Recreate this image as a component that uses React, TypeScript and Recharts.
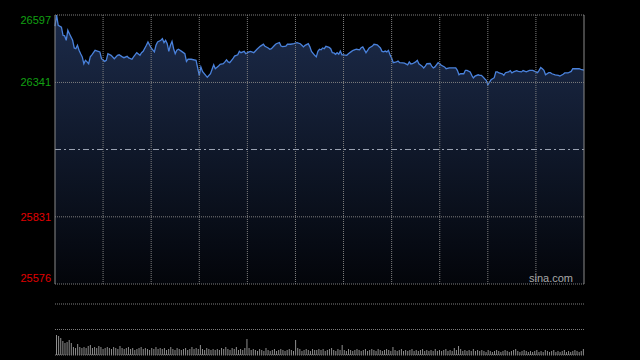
import { AreaChart, Area, XAxis, YAxis, CartesianGrid, ReferenceLine, BarChart, Bar } from 'recharts';

// previous close and axis ticks
const prevClose = 26086.5;
const priceTicks = [25576, 25831, 26341, 26597];
const gridMinutes = [30, 60, 90, 120, 150, 180, 210, 240, 270, 300];
const SESSION = [0, 330];

// minutes since the open (09:30) and index value at that minute
const minutes = [
  0, 1, 2, 4, 5, 6, 7, 8, 9, 11, 12, 13, 14, 15, 16, 17, 18, 19, 20, 21, 22, 23, 25, 26, 28,
  29, 31, 32, 33, 35, 37, 39, 40, 42, 43, 45, 46, 48, 49, 51, 53, 54, 55, 57, 58, 60, 62, 63, 64, 66,
  67, 68, 69, 70, 71, 72, 73, 74, 75, 76, 77, 79, 81, 82, 83, 85, 88, 89, 90, 91, 92, 94, 95, 97, 98,
  99, 100, 102, 103, 105, 106, 107, 108, 109, 111, 112, 114, 115, 116, 118, 119, 121, 122, 124, 126, 128, 130, 131, 133,
  134, 135, 137, 138, 140, 141, 142, 144, 145, 147, 149, 151, 153, 154, 155, 156, 158, 159, 160, 162, 163, 164, 165, 166, 167,
  168, 169, 171, 172, 173, 174, 175, 176, 177, 178, 179, 180, 182, 183, 185, 186, 188, 190, 191, 192, 194, 195, 196, 198, 199,
  201, 203, 204, 205, 206, 207, 208, 209, 210, 211, 213, 214, 215, 217, 218, 220, 221, 222, 223, 225, 226, 227, 229, 230, 231,
  232, 234, 235, 236, 237, 239, 240, 241, 243, 244, 246, 248, 250, 251, 252, 253, 255, 256, 257, 259, 260, 261, 262, 264, 265, 266,
  267, 268, 269, 270, 272, 273, 274, 275, 276, 277, 279, 280, 281, 283, 284, 285, 286, 288, 289, 291, 292, 294, 296, 298,
  299, 300, 301, 302, 303, 304, 305, 306, 308, 309, 310, 312, 314, 315, 317, 318, 320, 322, 323, 325, 327, 328, 330,
];
const prices = [
  26555, 26597, 26558, 26551, 26520, 26518, 26501, 26539, 26526, 26501, 26472, 26469, 26482, 26463, 26450, 26438, 26412, 26425, 26419, 26412, 26438, 26446, 26463, 26461, 26457,
  26431, 26421, 26425, 26450, 26444, 26431, 26444, 26446, 26438, 26435, 26440, 26434, 26429, 26438, 26454, 26444, 26454, 26459, 26482, 26495, 26472, 26457, 26482, 26495, 26501,
  26507, 26492, 26501, 26488, 26459, 26482, 26497, 26469, 26450, 26463, 26467, 26459, 26450, 26421, 26429, 26429, 26425, 26396, 26368, 26400, 26383, 26368, 26361, 26374, 26391,
  26408, 26393, 26403, 26410, 26412, 26419, 26427, 26419, 26416, 26431, 26441, 26446, 26459, 26454, 26459, 26450, 26457, 26459, 26454, 26467, 26478, 26486, 26478, 26472,
  26467, 26469, 26482, 26488, 26492, 26479, 26477, 26479, 26486, 26486, 26488, 26492, 26488, 26482, 26476, 26482, 26488, 26476, 26459, 26444, 26438, 26459, 26467, 26465, 26472,
  26469, 26478, 26474, 26469, 26454, 26453, 26448, 26454, 26448, 26460, 26446, 26446, 26444, 26450, 26459, 26463, 26467, 26465, 26473, 26476, 26454, 26463, 26472, 26479, 26486,
  26484, 26472, 26459, 26457, 26460, 26457, 26463, 26446, 26434, 26416, 26419, 26422, 26416, 26415, 26414, 26408, 26419, 26411, 26412, 26419, 26425, 26412, 26403, 26396, 26403,
  26412, 26413, 26403, 26396, 26400, 26416, 26412, 26406, 26400, 26393, 26396, 26396, 26396, 26387, 26370, 26374, 26374, 26387, 26387, 26381, 26368, 26358, 26365, 26370, 26368, 26368,
  26362, 26355, 26349, 26332, 26351, 26355, 26359, 26381, 26381, 26377, 26374, 26368, 26378, 26381, 26386, 26377, 26381, 26386, 26383, 26381, 26386, 26381, 26387, 26387,
  26384, 26381, 26378, 26387, 26398, 26393, 26387, 26370, 26378, 26378, 26374, 26370, 26368, 26365, 26372, 26377, 26377, 26383, 26393, 26393, 26393, 26391, 26388,
];

// volume bars across the session
const volumes = [
  200, 190, 170, 140, 120, 130, 150, 120, 80, 70, 110, 80, 70, 80, 70, 90, 100, 70, 80, 70, 90, 80, 60, 70, 80,
  70, 60, 80, 70, 60, 90, 70, 60, 70, 80, 60, 70, 50, 60, 70, 80, 60, 70, 60, 50, 70, 60, 80, 60, 70,
  60, 70, 50, 60, 80, 60, 50, 70, 60, 50, 60, 70, 50, 60, 80, 60, 70, 60, 100, 60, 50, 70, 60, 50, 60,
  50, 60, 50, 70, 60, 80, 60, 50, 70, 60, 80, 50, 60, 50, 70, 160, 70, 50, 60, 50, 40, 60, 50, 40, 70,
  50, 40, 50, 60, 40, 50, 60, 50, 40, 50, 60, 50, 40, 150, 70, 60, 40, 50, 60, 50, 40, 60, 50, 50, 60,
  50, 60, 40, 50, 60, 70, 50, 40, 60, 50, 100, 50, 40, 60, 50, 40, 50, 60, 50, 40, 50, 60, 40, 50, 60,
  50, 40, 60, 50, 40, 50, 60, 50, 40, 80, 50, 40, 50, 60, 40, 50, 40, 50, 60, 40, 50, 40, 50, 60, 40,
  50, 40, 50, 40, 60, 40, 50, 40, 50, 60, 40, 50, 40, 70, 50, 90, 60, 40, 50, 40, 50, 40, 60, 40, 50,
  40, 50, 40, 30, 50, 40, 30, 40, 50, 40, 30, 40, 50, 40, 30, 40, 50, 60, 40, 30, 40, 50, 40, 30, 40,
  30, 40, 50, 30, 40, 30, 50, 40, 30, 40, 50, 30, 40, 30, 40, 50, 30, 40, 30, 40, 50, 40, 30, 40, 60,
];

const priceData = minutes.map((t, i) => ({ t, price: prices[i] }));
const volumeData = volumes.map((v, i) => ({ i, v }));

const FONT = '"Liberation Sans", Arial, sans-serif';
const GREEN = '#12a012';
const RED = '#e00000';
const GRID = '#7e7e7e';
const FRAME = '#8a8a8a';
const PRICE_DOMAIN = [priceTicks[0], priceTicks[priceTicks.length - 1]];

const pctLabel = (v: number) => {
  const p = ((v - prevClose) / prevClose) * 100;
  return (p > 0 ? '+' : '') + p.toFixed(2) + '%';
};

// top label sits under the frame, bottom label above it
const shift = (v: number) => (v === PRICE_DOMAIN[1] ? 5 : v === PRICE_DOMAIN[0] ? -6 : 0);

const PriceTick = (props: any) => {
  const { x, y, payload, side } = props;
  const v = payload.value;
  return (
    <text
      x={x}
      y={y + shift(v)}
      dy="0.35em"
      textAnchor={side === 'left' ? 'end' : 'start'}
      fill={v > prevClose ? GREEN : RED}
      fontSize={11}
      fontFamily={FONT}
    >
      {side === 'left' ? v : pctLabel(v)}
    </text>
  );
};

// vertical grid every half hour, placed with the x scale
const halfHourLines = ({ xAxis, offset }: any) => {
  if (xAxis && typeof xAxis.scale === 'function') {
    return gridMinutes.map((m) => xAxis.scale(m));
  }
  return gridMinutes.map((m) => offset.left + ((m - SESSION[0]) / (SESSION[1] - SESSION[0])) * offset.width);
};

const M = { top: 15, right: 56, bottom: 16, left: 55 };

const App = () => {
  return (
    <div style={{ position: 'fixed', left: 0, top: 0, width: 640, height: 360, background: '#000', overflow: 'hidden' }}>
      {/* area fill + line */}
      <div style={{ position: 'absolute', left: 0, top: 0 }}>
        <AreaChart width={640} height={300} data={priceData} margin={M}>
          <defs>
            <linearGradient id="priceFill" x1="0" y1="0" x2="0" y2="1">
              <stop offset="0" stopColor="#1c2b4a" />
              <stop offset="1" stopColor="#03050a" />
            </linearGradient>
          </defs>
          <XAxis dataKey="t" type="number" domain={SESSION} hide />
          <YAxis domain={PRICE_DOMAIN} hide />
          <Area
            dataKey="price"
            type="linear"
            stroke="#4a82dc"
            strokeWidth={1.3}
            fill="url(#priceFill)"
            fillOpacity={1}
            dot={false}
            activeDot={false}
            isAnimationActive={false}
          />
        </AreaChart>
      </div>

      {/* grid, frame and labels drawn over the fill */}
      <div style={{ position: 'absolute', left: 0, top: 0 }}>
        <AreaChart width={640} height={300} data={priceData} margin={{ top: 15, right: 0, bottom: 16, left: 0 }}>
          <CartesianGrid stroke={GRID} strokeDasharray="1 1" verticalCoordinatesGenerator={halfHourLines} />
          <XAxis dataKey="t" type="number" domain={SESSION} ticks={gridMinutes} tick={false} tickLine={false} axisLine={{ stroke: FRAME }} height={0} />
          <XAxis xAxisId="top" orientation="top" dataKey="t" type="number" domain={SESSION} tick={false} tickLine={false} axisLine={{ stroke: FRAME }} height={0} />
          <YAxis
            domain={PRICE_DOMAIN}
            ticks={priceTicks}
            width={55}
            tickSize={2}
            tickMargin={2}
            tickLine={false}
            axisLine={{ stroke: FRAME }}
            tick={(p: any) => <PriceTick {...p} side="left" />}
          />
          <YAxis
            yAxisId="right"
            orientation="right"
            type="number"
            domain={PRICE_DOMAIN}
            ticks={priceTicks}
            width={56}
            tickSize={3}
            tickMargin={3}
            tickLine={false}
            axisLine={{ stroke: FRAME }}
            tick={(p: any) => <PriceTick {...p} side="right" />}
          />
          <ReferenceLine y={prevClose} stroke="#9aa2b2" strokeDasharray="6 3 2 3" />
          <Area dataKey="price" stroke="none" fill="none" isAnimationActive={false} />
        </AreaChart>
      </div>

      <div style={{ position: 'absolute', right: 67, top: 272, color: '#a8a8a8', fontSize: 11, fontFamily: FONT, lineHeight: '13px' }}>
        sina.com
      </div>

      {/* volume */}
      <div style={{ position: 'absolute', left: 0, top: 302 }}>
        <BarChart width={640} height={55} data={volumeData} margin={{ top: 2, right: 56, bottom: 2, left: 55 }} barCategoryGap={0}>
          <XAxis dataKey="i" hide />
          <YAxis domain={[0, 510]} width={0} tick={false} tickLine={false} axisLine={{ stroke: FRAME }} />
          <YAxis yAxisId="r" orientation="right" domain={[0, 510]} width={0} tick={false} tickLine={false} axisLine={{ stroke: FRAME }} />
          <ReferenceLine y={510} stroke={GRID} strokeDasharray="1 1" />
          <ReferenceLine y={255} stroke={GRID} strokeDasharray="1 1" />
          <ReferenceLine y={0} stroke={GRID} strokeDasharray="1 1" />
          <Bar dataKey="v" fill="#8e8e8e" barSize={1} isAnimationActive={false} />
        </BarChart>
      </div>
    </div>
  );
};

export default App;
